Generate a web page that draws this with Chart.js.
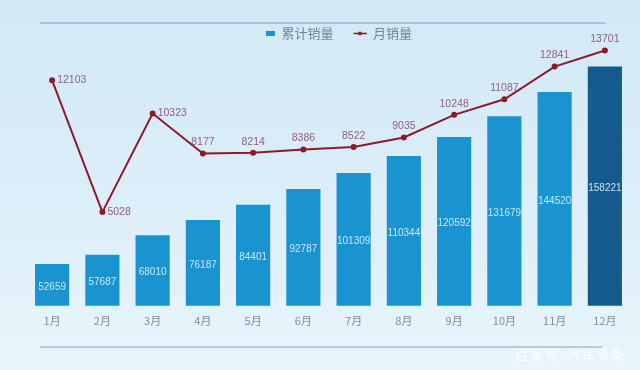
<!DOCTYPE HTML>
<html lang="zh">
<head>
    <meta charset="utf-8">
    <title>累计销量 / 月销量</title>
    <script src="https://cdn.jsdelivr.net/npm/chart.js@4.4.1/dist/chart.umd.min.js"></script>
    <style>
        body {
            margin: 0;
            font-family: "Noto Sans CJK SC", "Noto Sans", sans-serif;
        }

        #wrap {
            position: relative;
            width: 640px;
            height: 370px;
            background: linear-gradient(180deg, #d2e9f7 0%, #dceef9 55%, #e9f5fb 100%);
            overflow: hidden;
        }

        .rule {
            position: absolute;
            height: 2px;
            background: #a8c7da;
        }

        #watermark {
            position: absolute;
            right: 14px;
            bottom: 6px;
            font-size: 14px;
            color: rgba(255, 255, 255, 0.85);
            letter-spacing: 1px;
        }
    </style>
</head>
<body>
    <div id="wrap">
        <div class="rule" style="left:40px; top:22px; width:566px;"></div>
        <div class="rule" style="left:40px; top:346px; width:562px; background:#b6ccda;"></div>
        <canvas id="sales-chart"></canvas>
        <div id="watermark">百家号/汽车头条</div>
    </div>

    <script>
        // data
        const months = ['1月', '2月', '3月', '4月', '5月', '6月', '7月', '8月', '9月', '10月', '11月', '12月'];
        const cumulativeSales = [52659, 57687, 68010, 76187, 84401, 92787, 101309, 110344, 120592, 131679, 144520, 158221];
        const monthlySales = [12103, 5028, 10323, 8177, 8214, 8386, 8522, 9035, 10248, 11087, 12841, 13701];

        const barBlue = '#1994d0';
        const barDark = '#145a8d';
        const lineRed = '#8b1b2c';

        // legend icons, drawn into small canvases
        function legendIcon(kind) {
            const c = document.createElement('canvas');
            c.width = 30;
            c.height = 9;
            const g = c.getContext('2d');
            if (kind === 'bar') {
                g.fillStyle = barBlue;
                g.fillRect(21, 2, 9, 5);
            } else {
                g.strokeStyle = lineRed;
                g.lineWidth = 1.5;
                g.beginPath();
                g.moveTo(17, 4.5);
                g.lineTo(30, 4.5);
                g.stroke();
                g.fillStyle = lineRed;
                g.beginPath();
                g.arc(23.5, 4.5, 2, 0, Math.PI * 2);
                g.fill();
            }
            return c;
        }

        const valueLabels = {
            id: 'valueLabels',
            afterDatasetsDraw(chart) {
                const ctx = chart.ctx;
                const bottom = chart.chartArea.bottom;
                ctx.save();

                // bar values, middle of each bar
                const barMeta = chart.getDatasetMeta(0);
                ctx.font = '10px "Liberation Sans", Arial, sans-serif';
                ctx.fillStyle = 'rgba(214, 238, 252, 0.92)';
                ctx.textAlign = 'center';
                ctx.textBaseline = 'middle';
                barMeta.data.forEach((bar, i) => {
                    const mid = (bar.y + bottom) / 2 + 2;
                    ctx.fillText(cumulativeSales[i], bar.x, mid);
                });

                // line values: first three to the right, the rest above
                const lineMeta = chart.getDatasetMeta(1);
                ctx.font = '10.5px "Liberation Sans", Arial, sans-serif';
                ctx.fillStyle = '#93607f';
                lineMeta.data.forEach((pt, i) => {
                    if (i < 3) {
                        ctx.textAlign = 'left';
                        ctx.fillText(monthlySales[i], pt.x + 5, pt.y);
                    } else {
                        ctx.textAlign = 'center';
                        ctx.fillText(monthlySales[i], pt.x, pt.y - 11);
                    }
                });

                ctx.restore();
            }
        };

        new Chart(document.getElementById('sales-chart'), {
            data: {
                labels: months,
                datasets: [{
                    type: 'bar',
                    label: '累计销量',
                    data: cumulativeSales,
                    yAxisID: 'y',
                    order: 1,
                    backgroundColor: ctx => ctx.dataIndex === cumulativeSales.length - 1 ? barDark : barBlue,
                    categoryPercentage: 1,
                    barPercentage: 0.68
                }, {
                    type: 'line',
                    label: '月销量',
                    data: monthlySales,
                    yAxisID: 'y1',
                    order: 0,
                    borderColor: lineRed,
                    backgroundColor: lineRed,
                    borderWidth: 2,
                    pointRadius: 2,
                    tension: 0,
                    clip: false
                }]
            },
            options: {
                responsive: true,
                maintainAspectRatio: false,
                animation: false,
                layout: {
                    padding: { left: 27, right: 10, top: 24, bottom: 35 }
                },
                plugins: {
                    tooltip: { enabled: false },
                    legend: {
                        position: 'top',
                        labels: {
                            usePointStyle: true,
                            pointStyleWidth: 30,
                            boxHeight: 9,
                            padding: 3,
                            color: '#6f879b',
                            font: { size: 13, family: '"Noto Sans CJK SC", sans-serif' },
                            generateLabels: chart => chart.data.datasets.map((ds, i) => ({
                                text: ds.label,
                                pointStyle: legendIcon(i === 0 ? 'bar' : 'line'),
                                fillStyle: 'transparent',
                                strokeStyle: 'transparent',
                                lineWidth: 0,
                                fontColor: '#6f879b',
                                datasetIndex: i
                            }))
                        }
                    }
                },
                scales: {
                    x: {
                        grid: { display: false, drawTicks: false },
                        border: { display: false },
                        ticks: {
                            color: '#7d8d9d',
                            padding: 8,
                            font: { size: 11, family: '"Noto Sans CJK SC", sans-serif' }
                        }
                    },
                    y: {
                        display: false,
                        min: 30400,
                        max: 167000
                    },
                    y1: {
                        display: false,
                        min: 0,
                        max: 13730
                    }
                }
            },
            plugins: [valueLabels]
        });
    </script>
</body>
</html>
